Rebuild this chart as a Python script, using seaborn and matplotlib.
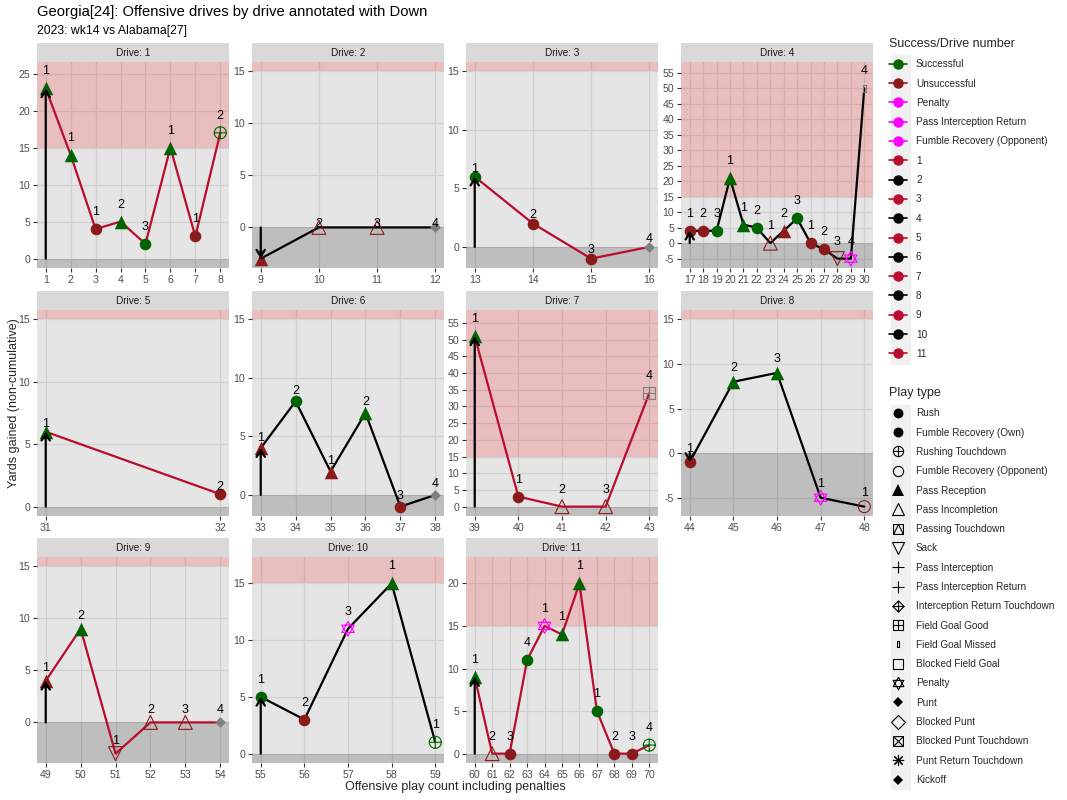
import numpy as np
import pandas as pd
import matplotlib
matplotlib.use("Agg")
import matplotlib.pyplot as plt
from matplotlib.path import Path
from matplotlib.lines import Line2D
from matplotlib.patches import Rectangle
import seaborn as sns

# ---------------- data ----------------
drive = [1, 1, 1, 1, 1, 1, 1, 1,
         2, 2, 2, 2,
         3, 3, 3, 3,
         4, 4, 4, 4, 4, 4, 4, 4, 4, 4, 4, 4, 4, 4,
         5, 5,
         6, 6, 6, 6, 6, 6,
         7, 7, 7, 7, 7,
         8, 8, 8, 8, 8,
         9, 9, 9, 9, 9, 9,
         10, 10, 10, 10, 10,
         11, 11, 11, 11, 11, 11, 11, 11, 11, 11, 11]
play = [1, 2, 3, 4, 5, 6, 7, 8,
        9, 10, 11, 12,
        13, 14, 15, 16,
        17, 18, 19, 20, 21, 22, 23, 24, 25, 26, 27, 28, 29, 30,
        31, 32,
        33, 34, 35, 36, 37, 38,
        39, 40, 41, 42, 43,
        44, 45, 46, 47, 48,
        49, 50, 51, 52, 53, 54,
        55, 56, 57, 58, 59,
        60, 61, 62, 63, 64, 65, 66, 67, 68, 69, 70]
yards = [23, 14, 4, 5, 2, 15, 3, 17,
         -3, 0, 0, 0,
         6, 2, -1, 0,
         4, 4, 4, 21, 6, 5, 0, 4, 8, 0, -2, -5, -5, 50,
         6, 1,
         4, 8, 2, 7, -1, 0,
         51, 3, 0, 0, 34,
         -1, 8, 9, -5, -6,
         4, 9, -3, 0, 0, 0,
         5, 3, 11, 15, 1,
         9, 0, 0, 11, 15, 14, 20, 5, 0, 0, 1]
down = [1, 1, 1, 2, 3, 1, 1, 2,
        1, 2, 3, 4,
        1, 2, 3, 4,
        1, 2, 3, 1, 1, 2, 1, 2, 3, 1, 2, 3, 4, 4,
        1, 2,
        1, 2, 1, 2, 3, 4,
        1, 1, 2, 3, 4,
        1, 2, 3, 1, 1,
        1, 2, 1, 2, 3, 4,
        1, 2, 3, 1, 1,
        1, 2, 3, 4, 1, 1, 1, 1, 2, 3, 4]
play_type = ["Pass Reception", "Pass Reception", "Rush", "Pass Reception", "Rush", "Pass Reception", "Rush", "Rushing Touchdown",
             "Pass Reception", "Pass Incompletion", "Pass Incompletion", "Punt",
             "Rush", "Rush", "Rush", "Punt",
             "Rush", "Rush", "Rush", "Pass Reception", "Pass Reception", "Rush", "Pass Incompletion",
             "Pass Reception", "Rush", "Rush", "Rush", "Sack", "Penalty", "Field Goal Missed",
             "Pass Reception", "Rush",
             "Pass Reception", "Rush", "Pass Reception", "Pass Reception", "Rush", "Punt",
             "Pass Reception", "Rush", "Pass Incompletion", "Pass Incompletion", "Field Goal Good",
             "Rush", "Pass Reception", "Pass Reception", "Penalty", "Fumble Recovery (Opponent)",
             "Pass Reception", "Pass Reception", "Sack", "Pass Incompletion", "Pass Incompletion", "Punt",
             "Rush", "Rush", "Penalty", "Pass Reception", "Rushing Touchdown",
             "Pass Reception", "Pass Incompletion", "Rush", "Rush", "Penalty", "Pass Reception",
             "Pass Reception", "Rush", "Rush", "Rush", "Rushing Touchdown"]
success = ["Successful", "Successful", "Unsuccessful", "Successful", "Successful", "Successful", "Unsuccessful", "Successful",
           "Unsuccessful", "Unsuccessful", "Unsuccessful", "None",
           "Successful", "Unsuccessful", "Unsuccessful", "None",
           "Unsuccessful", "Unsuccessful", "Successful", "Successful", "Successful", "Successful", "Unsuccessful",
           "Unsuccessful", "Successful", "Unsuccessful", "Unsuccessful", "Unsuccessful", "Penalty", "None",
           "Successful", "Unsuccessful",
           "Unsuccessful", "Successful", "Unsuccessful", "Successful", "Unsuccessful", "None",
           "Successful", "Unsuccessful", "Unsuccessful", "Unsuccessful", "None",
           "Unsuccessful", "Successful", "Successful", "Penalty", "Unsuccessful",
           "Unsuccessful", "Successful", "Unsuccessful", "Unsuccessful", "Unsuccessful", "None",
           "Successful", "Unsuccessful", "Penalty", "Successful", "Successful",
           "Successful", "Unsuccessful", "Unsuccessful", "Successful", "Penalty", "Successful",
           "Successful", "Successful", "Unsuccessful", "Unsuccessful", "Successful"]

legend1_labels = ["Successful", "Unsuccessful", "Penalty", "Pass Interception Return",
                  "Fumble Recovery (Opponent)", "1", "2", "3", "4", "5", "6", "7", "8", "9", "10", "11"]
legend2_labels = ["Rush", "Fumble Recovery (Own)", "Rushing Touchdown", "Fumble Recovery (Opponent)",
                  "Pass Reception", "Pass Incompletion", "Passing Touchdown", "Sack", "Pass Interception",
                  "Pass Interception Return", "Interception Return Touchdown", "Field Goal Good",
                  "Field Goal Missed", "Blocked Field Goal", "Penalty", "Punt", "Blocked Punt",
                  "Blocked Punt Touchdown", "Punt Return Touchdown", "Kickoff"]

title = "Georgia[24]: Offensive drives by drive annotated with Down"
subtitle = "2023: wk14 vs Alabama[27]"

df = pd.DataFrame(dict(drive=drive, play=play, yards=yards, down=down,
                       play_type=play_type, success=success))

# ---------------- styles ----------------
GREEN = "#006400"
DARKRED = "#8B1A1A"
MAGENTA = "#FF00FF"
GREY = "#7F7F7F"
CRIMSON = "#BA0C2F"
succ_col = {"Successful": GREEN, "Unsuccessful": DARKRED, "Penalty": MAGENTA, "None": GREY}


def P(verts, codes):
    return Path(np.array(verts, float), codes)


M, L, C = Path.MOVETO, Path.LINETO, Path.CLOSEPOLY
circle = Path.unit_circle()
plus = P([[-1, 0], [1, 0], [0, -1], [0, 1]], [M, L, M, L])
xcross = P([[-1, -1], [1, 1], [-1, 1], [1, -1]], [M, L, M, L])
square = P([[-1, -1], [1, -1], [1, 1], [-1, 1], [-1, -1]], [M, L, L, L, C])
diamond = P([[0, -1], [1, 0], [0, 1], [-1, 0], [0, -1]], [M, L, L, L, C])
tri_in_sq = P([[-1, -1], [0, 1], [1, -1]], [M, L, L])
s3 = np.sqrt(3) / 2
tri_up = P([[0, 1], [-s3, -0.5], [s3, -0.5], [0, 1]], [M, L, L, C])
tri_dn = P([[0, -1], [-s3, 0.5], [s3, 0.5], [0, -1]], [M, L, L, C])
circle_plus = Path.make_compound_path(circle, plus)
square_plus = Path.make_compound_path(square, plus)
square_x = Path.make_compound_path(square, xcross)
diamond_plus = Path.make_compound_path(diamond, plus)
square_tri = Path.make_compound_path(square, tri_in_sq)
star_david = Path.make_compound_path(tri_up, tri_dn)
narrow_rect = P([[-0.35, -1], [0.35, -1], [0.35, 1], [-0.35, 1], [-0.35, -1]], [M, L, L, L, C])

# marker, filled, scatter size
mstyle = {
    "Rush": ("o", True, 70),
    "Fumble Recovery (Own)": ("o", True, 70),
    "Rushing Touchdown": (circle_plus, False, 75),
    "Fumble Recovery (Opponent)": ("o", False, 75),
    "Pass Reception": ("^", True, 95),
    "Pass Incompletion": ("^", False, 100),
    "Passing Touchdown": (square_tri, False, 70),
    "Sack": ("v", False, 100),
    "Pass Interception": ("+", False, 90),
    "Pass Interception Return": ("+", False, 90),
    "Interception Return Touchdown": (diamond_plus, False, 90),
    "Field Goal Good": (square_plus, False, 70),
    "Field Goal Missed": (narrow_rect, False, 30),
    "Blocked Field Goal": ("s", False, 70),
    "Penalty": (star_david, False, 110),
    "Punt": ("D", True, 30),
    "Blocked Punt": ("D", False, 70),
    "Blocked Punt Touchdown": (square_x, False, 70),
    "Punt Return Touchdown": ((8, 2, 0), False, 90),
    "Kickoff": ("D", True, 30),
}

sns.set_theme(style="white")
plt.rcParams["font.family"] = ["Liberation Sans", "DejaVu Sans"]

W, H = 1067, 800
fig = plt.figure(figsize=(W / 100, H / 100), dpi=100)

col_left = [37, 252, 466, 681]
row_top = [62, 310, 557]
pw, ph, sh = 192, 206, 19

drives = sorted(df.drive.unique())
for i, d in enumerate(drives):
    r, c = divmod(i, 4)
    ax = fig.add_axes([col_left[c] / W, 1 - (row_top[r] + ph) / H, pw / W, ph / H])
    sax = fig.add_axes([col_left[c] / W, 1 - row_top[r] / H, pw / W, sh / H])
    sax.set_facecolor("#D9D9D9")
    sax.set_xticks([]); sax.set_yticks([])
    for s in sax.spines.values():
        s.set_visible(False)
    sax.text(0.5, 0.47, f"Drive: {d}", ha="center", va="center", fontsize=7.2, color="#1A1A1A",
             transform=sax.transAxes)

    sub = df[df.drive == d].reset_index(drop=True)
    xs, ys = sub.play.values, sub.yards.values
    rng = max(ys.max(), 0) - min(ys.min(), 0)
    nudge = 0.1 * rng
    lo = min(ys.min(), 0)
    hi = max(ys.max() + nudge, 15)
    pad = 0.05 * (hi - lo)
    y0, y1 = lo - pad, hi + pad
    xpad = 0.05 * (xs.max() - xs.min())
    ax.set_xlim(xs.min() - xpad, xs.max() + xpad)
    ax.set_ylim(y0, y1)

    ax.set_facecolor("#E5E5E5")
    for s in ax.spines.values():
        s.set_visible(False)
    ax.set_axisbelow(True)
    ax.grid(True, color="#D0D0D0", lw=0.9)
    ax.axhspan(15, y1, color="red", alpha=0.17, lw=0, zorder=1)
    ax.axhspan(y0, 0, color="black", alpha=0.17, lw=0, zorder=1)

    lc = CRIMSON if d % 2 == 1 else "black"
    sns.lineplot(x=xs, y=ys, color=lc, lw=1.6, ax=ax, estimator=None, sort=False,
                 legend=False, zorder=3)

    for _, row in sub.iterrows():
        mk, filled, sz = mstyle[row.play_type]
        col = succ_col[row.success]
        if filled:
            ax.scatter(row.play, row.yards, marker=mk, s=sz, color=col, linewidths=0, zorder=4)
        else:
            ax.scatter(row.play, row.yards, marker=mk, s=sz, facecolors="none", edgecolors=col,
                       linewidths=0.8, zorder=4)
        ax.text(row.play, row.yards + nudge, str(row.down), ha="center", va="center",
                fontsize=9, color="black", zorder=6)

    ax.annotate("", xy=(xs[0], ys[0]), xytext=(xs[0], 0),
                arrowprops=dict(arrowstyle="->,head_length=0.4,head_width=0.25", color="black",
                                lw=1.6, shrinkA=0, shrinkB=0, mutation_scale=12), zorder=5)

    ax.set_xticks(xs)
    ax.set_xticklabels([str(v) for v in xs])
    yt = np.arange(np.ceil(y0 / 5) * 5, y1 + 0.01, 5)
    ax.set_yticks(yt)
    ax.set_yticklabels([str(int(v)) for v in yt])
    ax.tick_params(axis="both", length=3, width=0.8, color="#333333", labelsize=7.6,
                   labelcolor="#4D4D4D", pad=2, left=True, bottom=True)
    ax.set_xlabel(""); ax.set_ylabel("")

fig.text(37 / W, 1 - 12 / H, title, fontsize=10.6, va="center", ha="left", color="black")
fig.text(37 / W, 1 - 31 / H, subtitle, fontsize=8.8, va="center", ha="left", color="black")
fig.text(14 / W, 1 - 403 / H, "Yards gained (non-cumulative)", rotation=90, fontsize=9,
         va="center", ha="center")
fig.text(455 / W, 1 - 787 / H, "Offensive play count including penalties", fontsize=9,
         va="center", ha="center")

# legends
l1_cols = [GREEN, DARKRED, MAGENTA, MAGENTA, MAGENTA] + \
          [CRIMSON if int(k) % 2 == 1 else "black" for k in legend1_labels[5:]]
h1 = [Line2D([0], [0], color=cc, marker="o", ms=6.5, lw=1.2) for cc in l1_cols]
h2 = []
for lab in legend2_labels:
    mk, filled, sz = mstyle[lab]
    ms = np.sqrt(sz) * 0.85
    if filled:
        h2.append(Line2D([0], [0], ls="none", marker=mk, ms=ms, color="black", mew=0))
    else:
        h2.append(Line2D([0], [0], ls="none", marker=mk, ms=ms, color="black",
                         markerfacecolor="none", mew=0.8))

fig.patches.append(Rectangle((891 / W, 1 - 364 / H), 19 / W, 309 / H, transform=fig.transFigure,
                             color="#F0F0F0", zorder=0))
fig.patches.append(Rectangle((891 / W, 1 - 789 / H), 19 / W, 384 / H, transform=fig.transFigure,
                             color="#F0F0F0", zorder=0))

common = dict(loc="upper left", frameon=False, fontsize=7.2, title_fontsize=9,
              alignment="left", handlelength=1.8, handletextpad=0.9, borderpad=0,
              borderaxespad=0, labelspacing=0.93)
lg1 = fig.legend(h1, legend1_labels, bbox_to_anchor=(889 / W, 1 - 38 / H),
                 title="Success/Drive number", **common)
lg2 = fig.legend(h2, legend2_labels, bbox_to_anchor=(889 / W, 1 - 387 / H),
                 title="Play type", **common)

fig.savefig("out.png", dpi=100)
